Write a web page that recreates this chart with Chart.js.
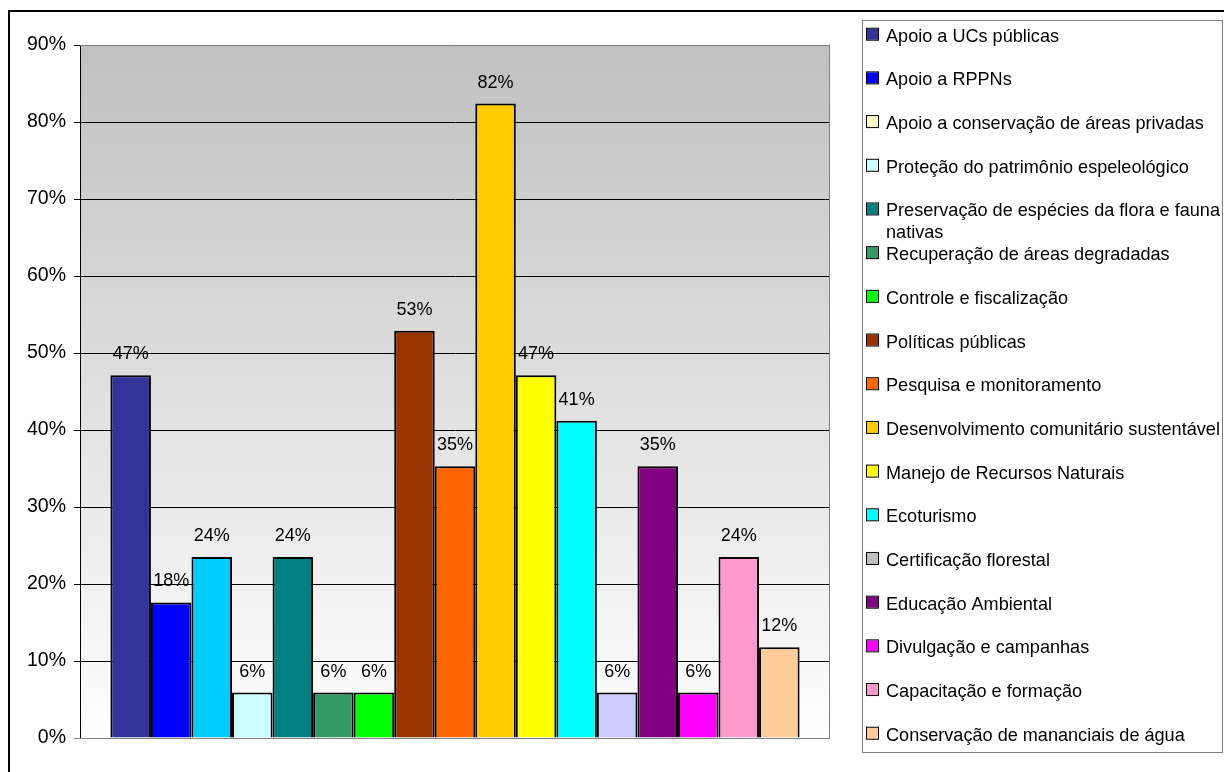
<!DOCTYPE html>
<html>
<head>
<meta charset="utf-8">
<title>Áreas de atuação</title>
<script src="https://cdn.jsdelivr.net/npm/chart.js@4.4.1/dist/chart.umd.min.js"></script>
<style>
  body { margin: 0; background: #fff; }
  #wrap { width: 1224px; height: 772px; }
</style>
</head>
<body>
<div id="wrap"><canvas id="bars" width="1224" height="772"></canvas></div>
<script>
// Categories (one bar each) and their share of respondents, in %
var categories = [
  "Apoio a UCs públicas",
  "Apoio a RPPNs",
  "Apoio a conservação de áreas privadas",
  "Proteção do patrimônio espeleológico",
  "Preservação de espécies da flora e fauna|nativas",
  "Recuperação de áreas degradadas",
  "Controle e fiscalização",
  "Políticas públicas",
  "Pesquisa e monitoramento",
  "Desenvolvimento comunitário sustentável",
  "Manejo de Recursos Naturais",
  "Ecoturismo",
  "Certificação florestal",
  "Educação Ambiental",
  "Divulgação e campanhas",
  "Capacitação e formação",
  "Conservação de mananciais de água"
];
var percentValues = [47.1, 17.6, 23.5, 5.9, 23.5, 5.9, 5.9, 52.9, 35.3, 82.4, 47.1, 41.2, 5.9, 35.3, 5.9, 23.5, 11.8];

var barColors = ["#333399", "#0000FF", "#00CCFF", "#CCFFFF", "#008080", "#339966", "#00FF00", "#993300",
  "#FF6600", "#FFCC00", "#FFFF00", "#00FFFF", "#CCCCFF", "#800080", "#FF00FF", "#FF99CC", "#FFCC99"];
var legendColors = ["#333399", "#0000FF", "#FFFFCC", "#CCFFFF", "#008080", "#339966", "#00FF00", "#993300",
  "#FF6600", "#FFCC00", "#FFFF00", "#00FFFF", "#C0C0C0", "#800080", "#FF00FF", "#FF99CC", "#FFCC99"];

var FONT = "'Liberation Sans', Arial, sans-serif";

// one dataset per category, all sitting in a single x slot
var datasets = [];
for (var i = 0; i < categories.length; i++) {
  datasets.push({
    label: categories[i],
    data: [percentValues[i]],
    backgroundColor: barColors[i],
    borderColor: "#000",
    borderWidth: 2,
    categoryPercentage: 17 / 18.5,
    barPercentage: 1
  });
}

// outer frame and plot background gradient
var framePlugin = {
  id: "frame",
  beforeDraw: function(chart) {
    var ctx = chart.ctx, a = chart.chartArea;
    ctx.save();
    ctx.fillStyle = "#fff";
    ctx.fillRect(0, 0, chart.width, chart.height);
    ctx.strokeStyle = "#000";
    ctx.lineWidth = 2;
    ctx.beginPath();
    ctx.moveTo(9, chart.height + 2);
    ctx.lineTo(9, 11);
    ctx.lineTo(chart.width + 2, 11);
    ctx.stroke();
    var g = ctx.createLinearGradient(0, a.top, 0, a.bottom);
    g.addColorStop(0, "#C0C0C0");
    g.addColorStop(1, "#FFFFFF");
    ctx.fillStyle = g;
    ctx.fillRect(a.left, a.top, a.right - a.left, a.bottom - a.top);
    ctx.restore();
  },
  afterDraw: function(chart) {
    var ctx = chart.ctx, a = chart.chartArea;
    ctx.save();
    ctx.strokeStyle = "#808080";
    ctx.lineWidth = 1;
    ctx.beginPath();
    ctx.moveTo(a.left, a.top + 0.5);
    ctx.lineTo(a.right - 0.5, a.top + 0.5);
    ctx.lineTo(a.right - 0.5, a.bottom + 0.5);
    ctx.lineTo(a.left, a.bottom + 0.5);
    ctx.stroke();
    ctx.restore();
  }
};

// value labels above each bar
var valueLabels = {
  id: "valueLabels",
  afterDatasetsDraw: function(chart) {
    var ctx = chart.ctx;
    ctx.save();
    ctx.font = "18px " + FONT;
    ctx.fillStyle = "#000";
    ctx.textAlign = "center";
    ctx.textBaseline = "alphabetic";
    chart.data.datasets.forEach(function(ds, i) {
      var bar = chart.getDatasetMeta(i).data[0];
      ctx.fillText(Math.round(ds.data[0]) + "%", bar.x, bar.y - 16);
    });
    ctx.restore();
  }
};

// boxed legend on the right
var boxLegend = {
  id: "boxLegend",
  afterDraw: function(chart) {
    var ctx = chart.ctx;
    var left = 862, top = 20, right = 1222, bottom = 752;
    ctx.save();
    ctx.fillStyle = "#fff";
    ctx.fillRect(left, top, right - left, bottom - top);
    ctx.strokeStyle = "#808080";
    ctx.lineWidth = 1;
    ctx.strokeRect(left + 0.5, top + 0.5, right - left, bottom - top);
    ctx.font = "18.1px " + FONT;
    ctx.textBaseline = "alphabetic";
    ctx.textAlign = "left";
    chart.data.datasets.forEach(function(ds, i) {
      var base = 41.7 + 43.69 * i;
      ctx.fillStyle = legendColors[i];
      ctx.fillRect(867, base - 13, 11, 11);
      ctx.strokeStyle = "#000";
      ctx.strokeRect(866.5, base - 13.5, 12, 12);
      ctx.fillStyle = "#000";
      ds.label.split("|").forEach(function(line, k) {
        ctx.fillText(line, 886, base + k * 22);
      });
    });
    ctx.restore();
  }
};

new Chart(document.getElementById("bars"), {
  type: "bar",
  data: { labels: [""], datasets: datasets },
  plugins: [framePlugin, valueLabels, boxLegend],
  options: {
    responsive: false,
    animation: false,
    layout: { padding: { left: 0, top: 45, right: 394, bottom: 34 } },
    plugins: {
      legend: { display: false },
      tooltip: { enabled: false },
      title: { display: false }
    },
    scales: {
      x: { display: false, offset: true },
      y: {
        min: 0,
        max: 90,
        afterFit: function(scale) { scale.width = 80; },
        ticks: {
          stepSize: 10,
          padding: 8,
          color: "#000",
          font: { family: FONT, size: 19.5 },
          callback: function(v) { return v + "%"; }
        },
        grid: {
          color: function(c) { return c.tick && c.tick.value === 0 ? "#808080" : "#000"; },
          lineWidth: 1,
          tickLength: 6,
          drawOnChartArea: true
        },
        border: { color: "#000", width: 1 }
      }
    }
  }
});
</script>
</body>
</html>
